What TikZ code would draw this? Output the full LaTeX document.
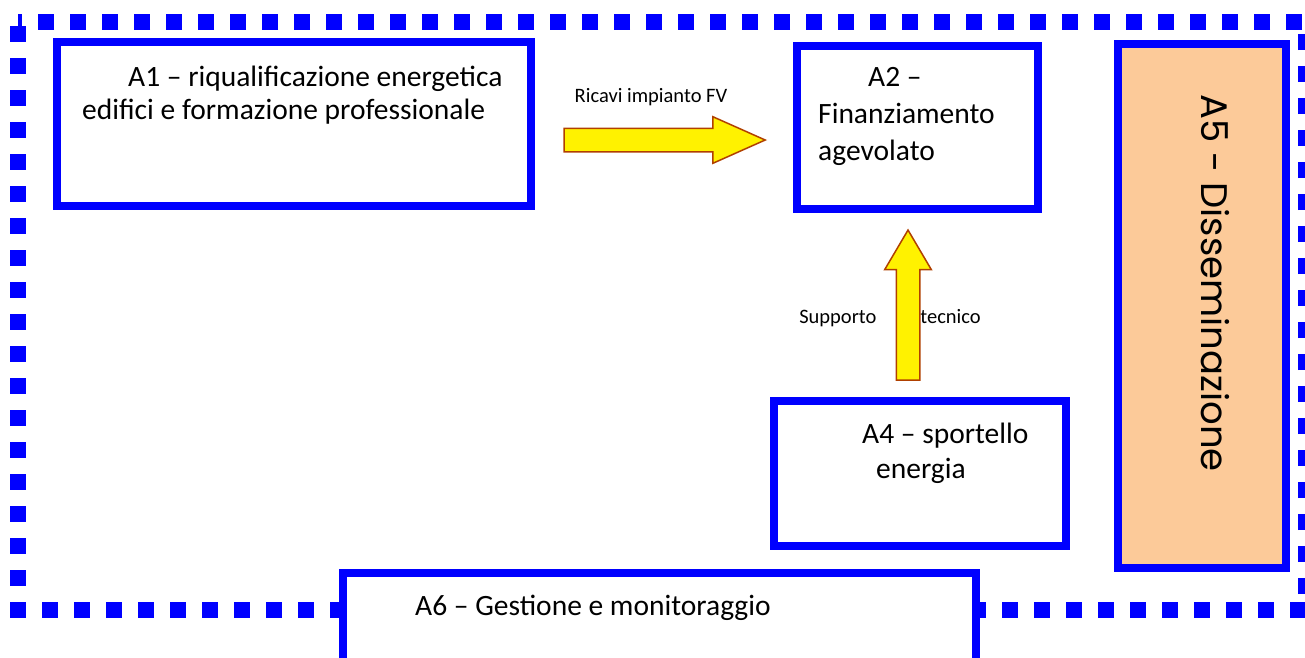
\documentclass[tikz,border=0pt]{standalone}
\usepackage{fontspec}
\setmainfont{Carlito}
\newfontfamily\gothfont{Poppins}
\usetikzlibrary{shapes.arrows}

\begin{document}
\begin{tikzpicture}[x=1pt,y=-1pt,
        actbox/.style={rectangle, draw=blue, line width=8pt, fill=white, inner sep=0pt},
        acttext/.style={anchor=north west, inner sep=0pt, align=left, font=\fontsize{29.5}{35}\selectfont},
        flowlabel/.style={inner sep=0pt, font=\fontsize{20.5}{24}\selectfont},
        fatarrow/.style={single arrow, draw={rgb,255:red,176;green,64;blue,0}, fill=yellow, line width=1.5pt,
            inner sep=11pt, single arrow head extend=11.5pt}]
        \useasboundingbox (0,0) rectangle (1305,657);
        % contorno tratteggiato del progetto
        \draw[blue, line width=16pt, dash pattern=on 16pt off 16pt, dash phase=-4pt] (18,22) rectangle (1306,610);
        % attivita
        \node (a1) [actbox, minimum width=474pt, minimum height=164pt] at (294,124) {};
        \node (a2) [actbox, minimum width=241pt, minimum height=163pt] at (917.5,127.5) {};
        \node (a4) [actbox, minimum width=292pt, minimum height=145pt] at (920,473.5) {};
        \node (a5) [actbox, fill={rgb,255:red,252;green,202;blue,153}, minimum width=168pt, minimum height=524pt] at (1202,306) {};
        \node (a6) [actbox, minimum width=633pt, minimum height=127pt] at (659.5,636.5) {};
        \node (a1text) [acttext, font=\fontsize{29.5}{33}\selectfont] at (82,66) {\hspace*{46pt}A1 -- riqualificazione energetica\\edifici e formazione professionale};
        \node (a2text) [acttext, font=\fontsize{29.5}{37}\selectfont] at (818,67) {\hspace*{50pt}A2 --\\Finanziamento\\agevolato};
        \node (a4text) [acttext] at (862,423) {A4 -- sportello\\\hspace*{14pt}energia};
        \node (a6text) [acttext] at (415,595) {A6 -- Gestione e monitoraggio};
        \node (a5text) [rotate=-90, inner sep=0pt, font=\gothfont\fontsize{37}{44}\selectfont] at (1215,283) {A5 - Disseminazione};
        % frecce
        \node (ricavi) [flowlabel] at (651,97) {Ricavi impianto FV};
        \node (supporto) [flowlabel] at (890,318) {Supporto\hspace{44pt}tecnico};
        \node (fv) [fatarrow, single arrow tip angle=48, minimum height=201pt] at (651.5,140) {};
        \node (tec) [fatarrow, single arrow tip angle=61, minimum height=150pt, rotate=90] at (908,315) {};
\end{tikzpicture}
\end{document}
